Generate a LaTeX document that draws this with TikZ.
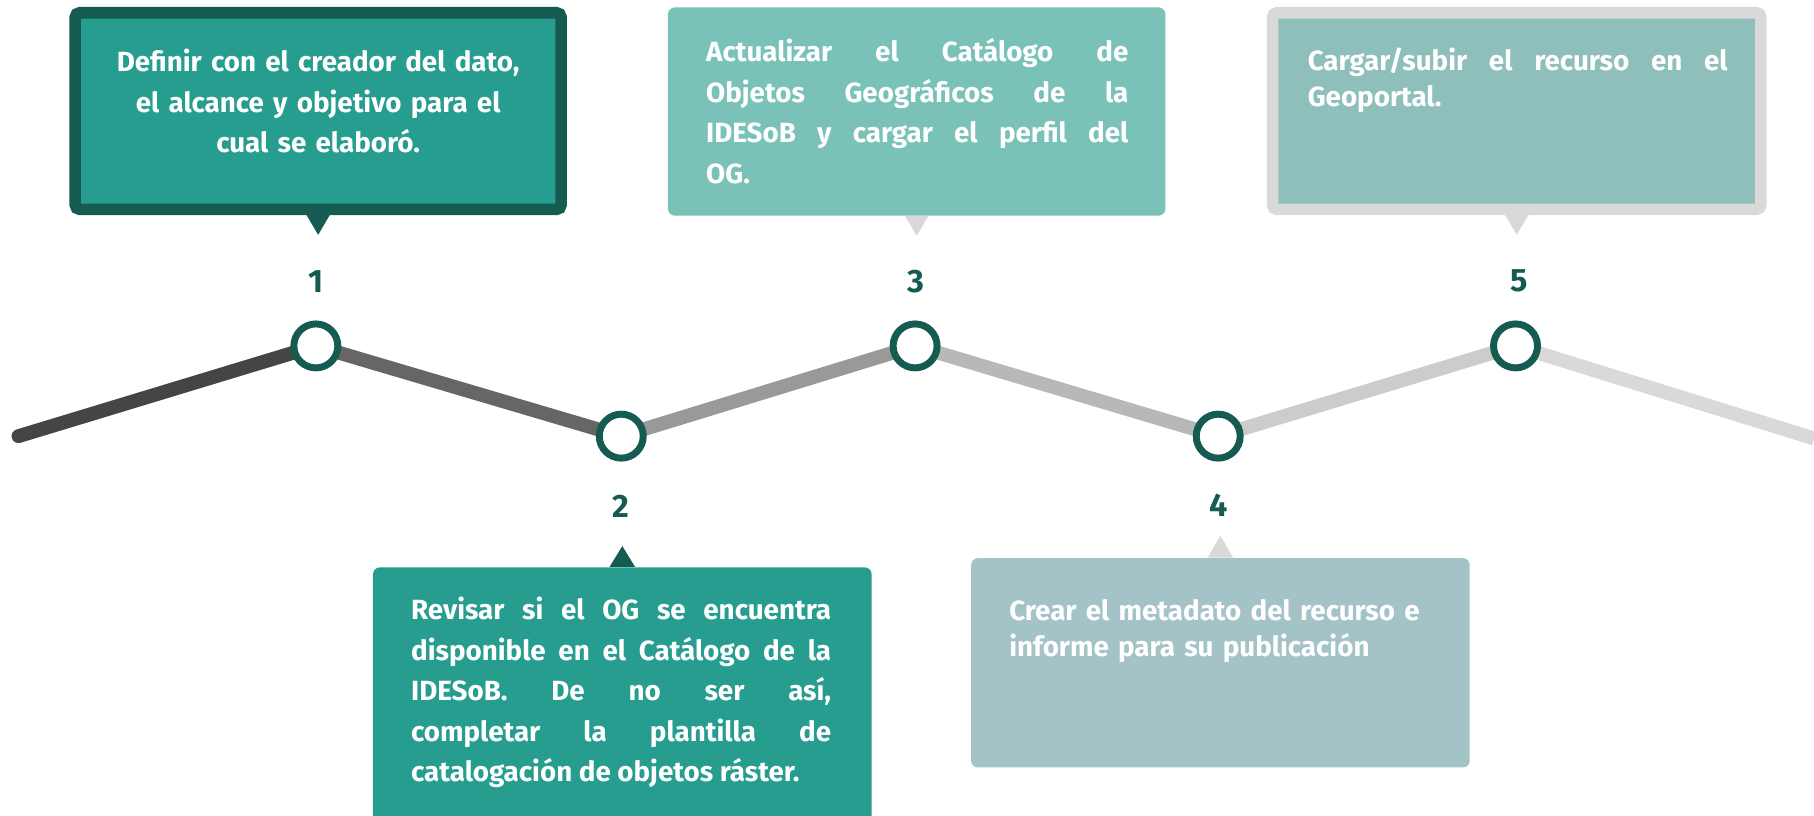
\documentclass[tikz,border=0pt]{standalone}
\usepackage{fontspec}
\setmainfont{Fira Sans}
\usetikzlibrary{calc, backgrounds}
\definecolor{deep}{RGB}{22, 91, 82}
\definecolor{sea}{RGB}{38, 157, 143}
\definecolor{mint}{RGB}{122, 194, 184}
\definecolor{haze}{RGB}{163, 195, 199}
\definecolor{sage}{RGB}{143, 191, 186}
\definecolor{silver}{RGB}{217, 217, 217}
\definecolor{grA}{RGB}{69, 69, 69}
\definecolor{grB}{RGB}{102, 102, 102}
\definecolor{grC}{RGB}{153, 153, 153}
\definecolor{grD}{RGB}{184, 184, 184}
\definecolor{grE}{RGB}{204, 204, 204}
\tolerance=9999
\hbadness=10000

\begin{document}
\begin{tikzpicture}[x=0.5pt, y=-0.5pt,
  stepdot/.style={circle, draw=deep, line width=3pt, fill=white, minimum size=19pt, inner sep=0pt},
  stepnum/.style={font=\bfseries\fontsize{14}{14}\selectfont, text=deep},
  card/.style={rectangle, anchor=north west, inner sep=0pt, rounded corners=3pt},
  cardtxt/.style={anchor=north west, inner sep=0pt, text=white, font=\bfseries\fontsize{12}{17.5}\selectfont, text width=181.5pt, align=justify},
  seg/.style={line width=6pt}]

  \useasboundingbox (0, 0) rectangle (1568, 705);

  % cards
  \node[card, fill=sea, draw=deep, line width=5pt, rounded corners=2pt, minimum width=210pt, minimum height=85pt] (b1) at (60, 6) {};
  \node[card, fill=sea, minimum width=215.5pt, minimum height=111pt] (b2) at (322, 490) {};
  \node[card, fill=mint, minimum width=215pt, minimum height=90pt] (b3) at (577, 6) {};
  \node[card, fill=haze, minimum width=215.5pt, minimum height=90.5pt] (b4) at (839, 482) {};
  \node[card, fill=sage, draw=silver, line width=5pt, rounded corners=2pt, minimum width=211pt, minimum height=85pt] (b5) at (1095, 6) {};

  % pointers
  \fill[deep] ($(b1.south)+(-10, 0)$) -- ($(b1.south)+(10, 0)$) -- ($(b1.south)+(0, 17)$) -- cycle;
  \fill[deep] ($(b2.north)+(-11, 0)$) -- ($(b2.north)+(11, 0)$) -- ($(b2.north)+(0, -18)$) -- cycle;
  \fill[silver] ($(b3.south)+(-10, 0)$) -- ($(b3.south)+(10, 0)$) -- ($(b3.south)+(0, 17)$) -- cycle;
  \fill[silver] ($(b4.north)+(-11, 0)$) -- ($(b4.north)+(11, 0)$) -- ($(b4.north)+(0, -19)$) -- cycle;
  \fill[silver] ($(b5.south)+(-10, 0)$) -- ($(b5.south)+(10, 0)$) -- ($(b5.south)+(0, 17)$) -- cycle;

  % texts
  \node[cardtxt, anchor=north, align=center, text width=190pt] (t1) at (275, 42)
    {Definir con el creador del dato,\\ el alcance y objetivo para el\\ cual se elaboró.};
  \node[cardtxt] (t2) at (355, 516)
    {Revisar si el OG se encuentra\linebreak disponible en el Catálogo de la\linebreak IDESoB. De no ser así,\linebreak completar la plantilla de\linebreak catalogación de objetos ráster.};
  \node[cardtxt, text width=182.5pt] (t3) at (610, 33)
    {Actualizar el Catálogo de\linebreak Objetos Geográficos de la\linebreak IDESoB y cargar el perfil del\linebreak OG.};
  \node[cardtxt, align=left, text width=190pt, font=\bfseries\fontsize{12}{15.5}\selectfont] (t4) at (872, 518)
    {Crear el metadato del recurso e\\ informe para su publicación};
  \node[cardtxt, font=\bfseries\fontsize{12}{15.5}\selectfont] (t5) at (1130, 41)
    {Cargar/subir el recurso en el\linebreak Geoportal.};

  % steps
  \node[stepdot] (c1) at (273, 299) {};
  \node[stepdot] (c2) at (537, 377) {};
  \node[stepdot] (c3) at (791, 299) {};
  \node[stepdot] (c4) at (1053, 377) {};
  \node[stepdot] (c5) at (1310, 299) {};
  \node[stepnum] (n1) at (273, 243) {1};
  \node[stepnum] (n2) at (537, 438) {2};
  \node[stepnum] (n3) at (792, 243) {3};
  \node[stepnum] (n4) at (1053, 437) {4};
  \node[stepnum] (n5) at (1313, 243) {5};
  \coordinate (start) at (16, 377);
  \coordinate (stop) at (1568, 379);

  \begin{scope}[on background layer]
    \draw[seg, grA, line cap=round] (start) -- (c1.center);
    \draw[seg, grB] (c1.center) -- (c2.center);
    \draw[seg, grC] (c2.center) -- (c3.center);
    \draw[seg, grD] (c3.center) -- (c4.center);
    \draw[seg, grE] (c4.center) -- (c5.center);
    \draw[seg, silver] (c5.center) -- (stop);
  \end{scope}

\end{tikzpicture}
\end{document}
